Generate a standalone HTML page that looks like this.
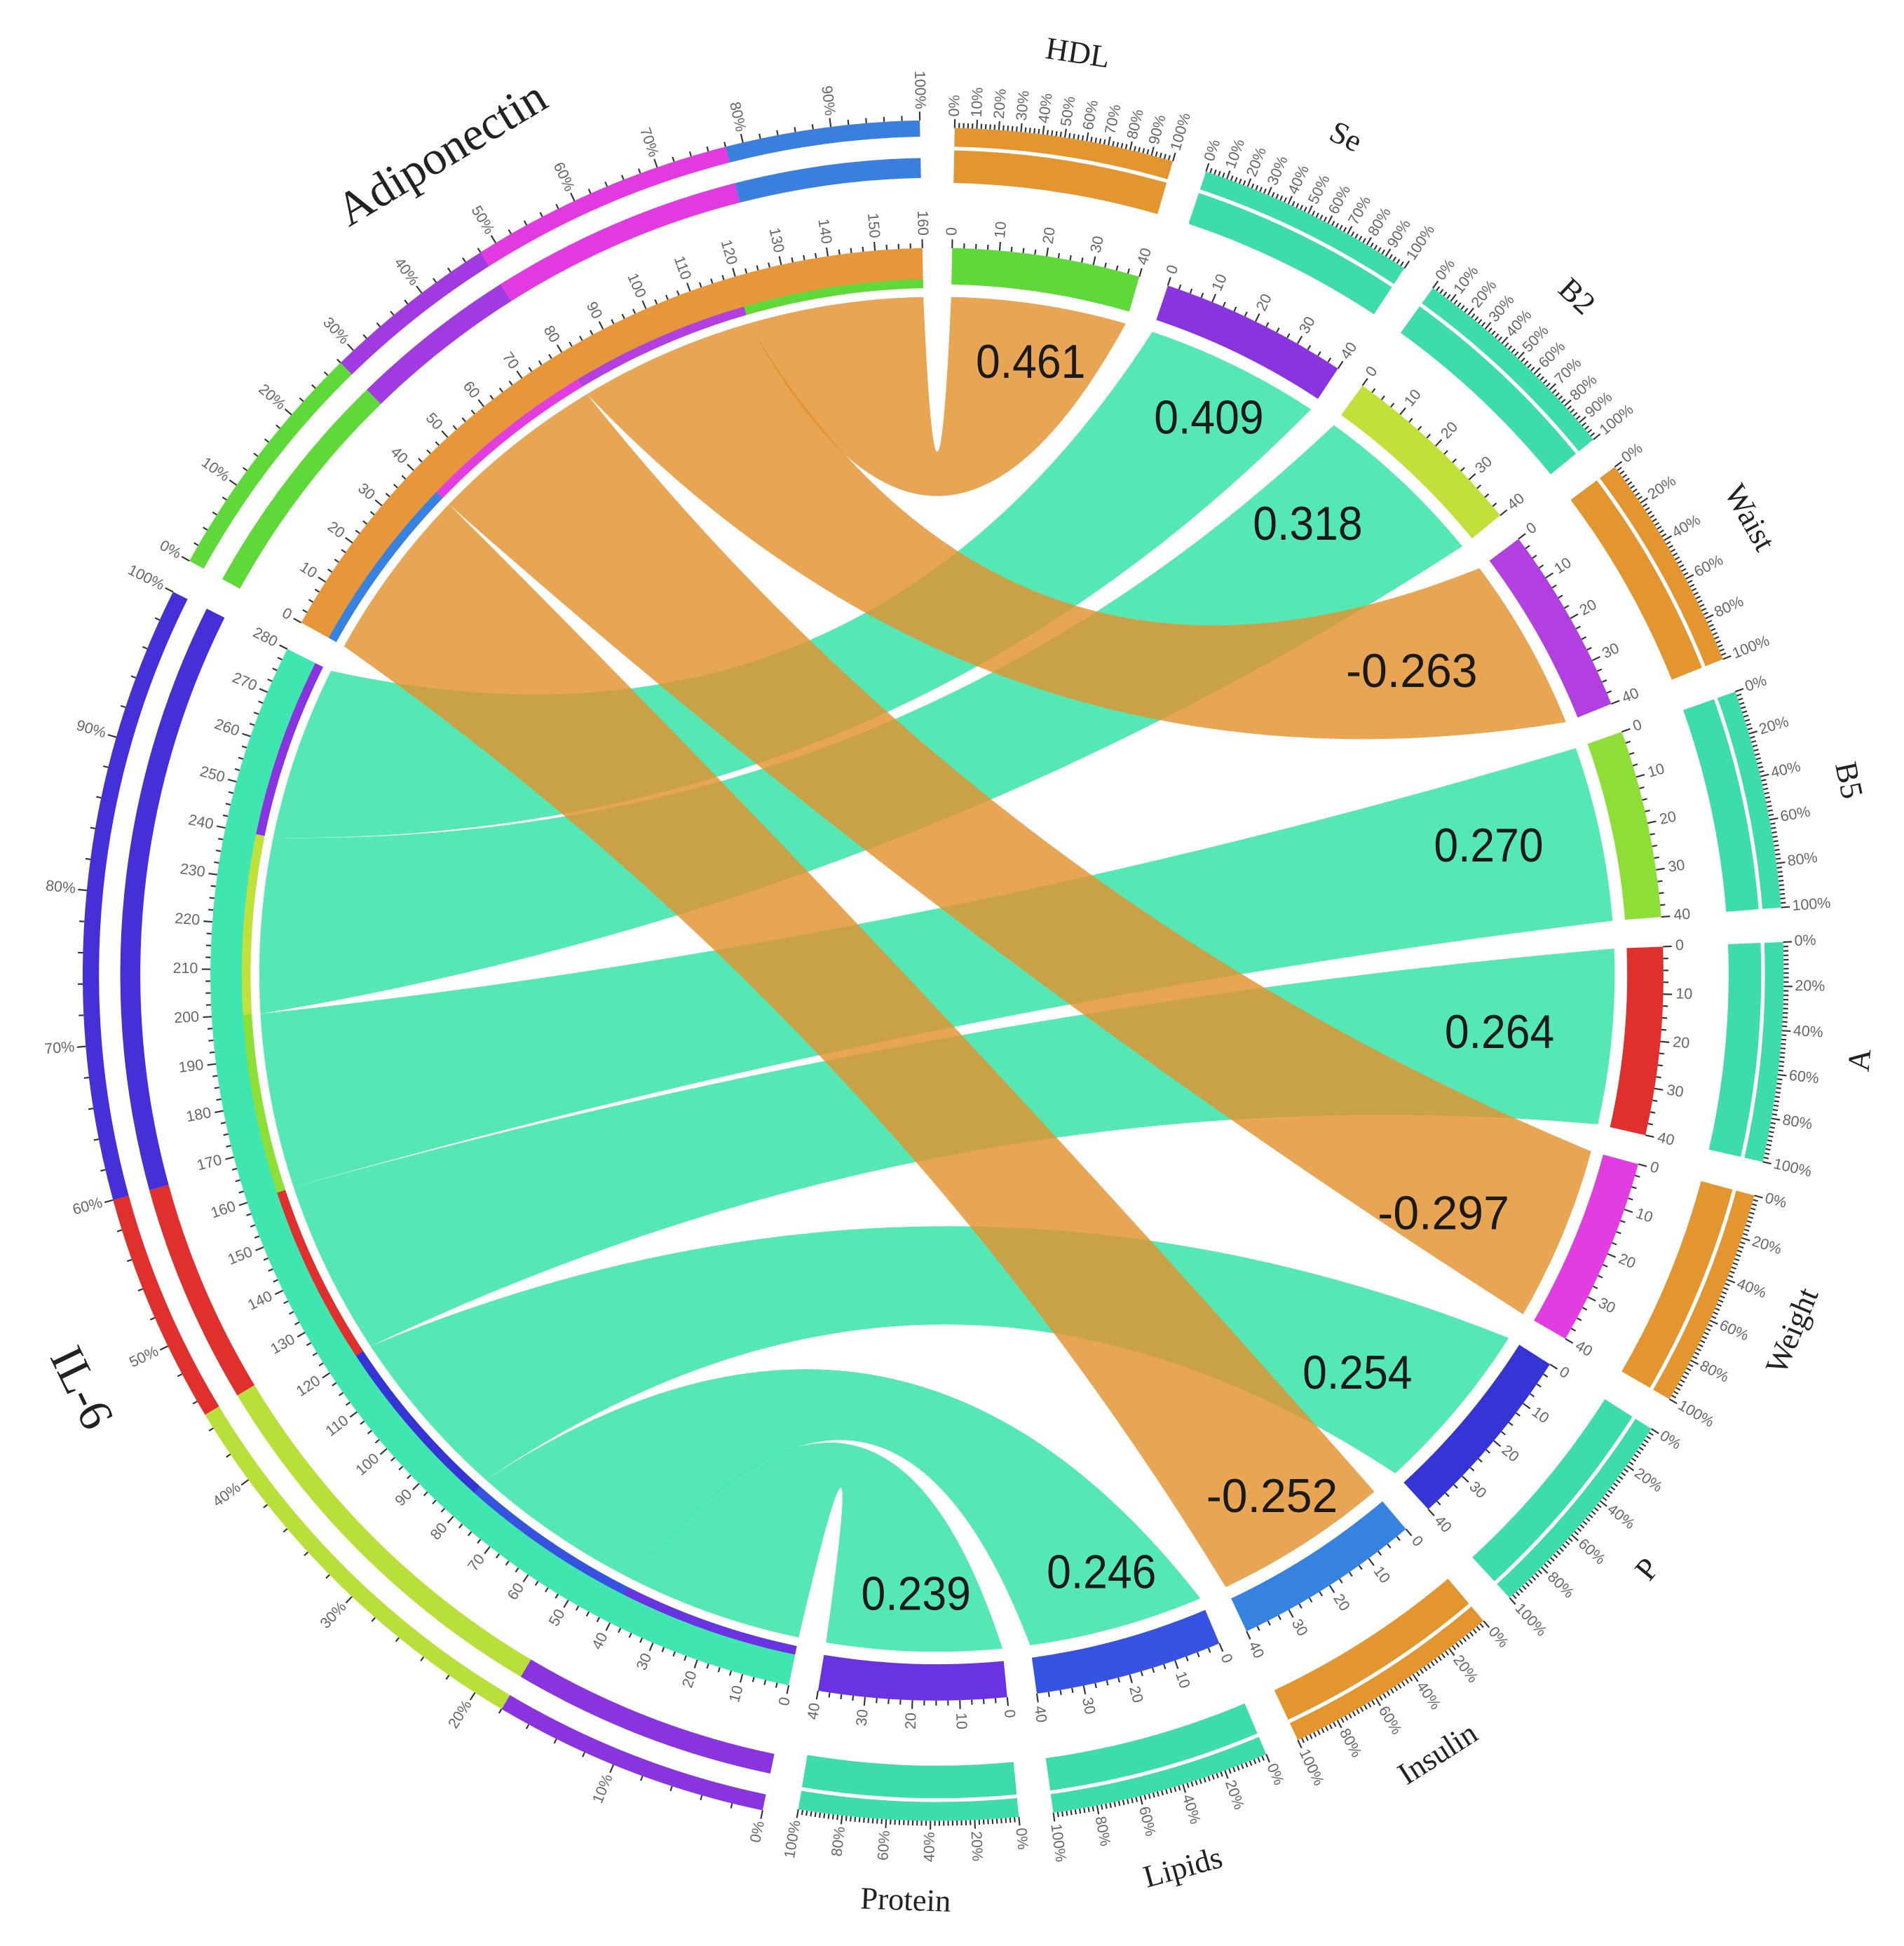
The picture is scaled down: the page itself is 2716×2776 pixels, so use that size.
<!DOCTYPE html>
<html><head><meta charset="utf-8">
<style>
html,body{margin:0;padding:0;background:#fff;}
svg{display:block;}
</style></head>
<body>
<svg id="chart" xmlns="http://www.w3.org/2000/svg" width="2716" height="2776" viewBox="0 0 1520 1554" preserveAspectRatio="none">
<rect x="0" y="0" width="1520" height="1554" fill="#fff"/>
<g id="outer"></g>
<g id="ribbons"></g>
<g id="inner"></g>
<g id="labels"></g>
</svg>
<script>
// ---- data ----
const groups = ['HDL','Se','B2','Waist','B5','A','Weight','P','Insulin','Lipids','Protein','IL-6','Adiponectin'];
const groupSizes = [40,40,40,40,40,40,40,40,40,40,40,280,160];
const groupColors = ['#5fd93a','#8a34e0','#c2e03a','#b23fe0','#8ddf38','#e0302e','#e23de0','#3535d6','#3682e0','#3552e0','#6a33e2','#3fe6b0','#e7973a'];
const outerColors = ['#e3952f','#3ddcaa','#3ddcaa','#e3952f','#3ddcaa','#3ddcaa','#e3952f','#3ddcaa','#e3952f','#3ddcaa','#3ddcaa',null,null];
const chordTargets = ['HDL','Se','B2','Waist','B5','A','Weight','P','Insulin','Lipids','Protein'];
const chordSources = ['Adiponectin','IL-6','IL-6','Adiponectin','IL-6','IL-6','Adiponectin','IL-6','Adiponectin','IL-6','IL-6'];
const chordSourceOffsets = [120,240,200,80,160,120,40,80,0,40,0];
const chordWidths = [40,40,40,40,40,40,40,40,40,40,40];
const chordValues = [0.461,0.409,0.318,-0.263,0.270,0.264,-0.297,0.254,-0.252,0.246,0.239];
const chordLabels = ['0.461','0.409','0.318','-0.263','0.270','0.264','-0.297','0.254','-0.252','0.246','0.239'];
const adipoSegNames = ['HDL','Waist','Weight','Insulin'];
const adipoSegFractions = [0.28,0.20,0.30,0.22];
const il6SegNames = ['Se','B2','A','P'];
const il6SegFractions = [0.18,0.27,0.15,0.40];
const adipoSegColors = ['#5fd93a','#a13ae0','#e03ae0','#3a7fe0'];
const il6SegColors = ['#8a34e0','#b9e03a','#e0302e','#4530d8'];

// ---- geometry ----
const cx = 748, cy = 778;
const startAngle = 1.2, gap = 2.35;
const degPerUnit = (360 - groups.length*gap) / groupSizes.reduce((a,b)=>a+b,0);
const gStart = [];
{ let a = startAngle; groupSizes.forEach((s,i)=>{ gStart.push(a); a += s*degPerUnit + gap; }); }
function ang(gi, u){ return gStart[gi] + u*degPerUnit; }
function pt(r,a){ const t=a*Math.PI/180; return [cx + r*Math.sin(t), cy - r*Math.cos(t)]; }
function f(p){ return p[0].toFixed(2)+' '+p[1].toFixed(2); }
function sector(r0,r1,a0,a1){
  const lg = (a1-a0)>180?1:0;
  return 'M'+f(pt(r1,a0))+' A'+r1+' '+r1+' 0 '+lg+' 1 '+f(pt(r1,a1))+' L'+f(pt(r0,a1))+' A'+r0+' '+r0+' 0 '+lg+' 0 '+f(pt(r0,a0))+'Z';
}
const NS='http://www.w3.org/2000/svg';
function mk(tag, attrs, parent){
  const e=document.createElementNS(NS,tag);
  for(const k in attrs) e.setAttribute(k, attrs[k]);
  parent.appendChild(e); return e;
}
const gOuter=document.getElementById('outer'), gRib=document.getElementById('ribbons'), gInner=document.getElementById('inner'), gLab=document.getElementById('labels');

// ---- inner rings ----
const rChord = 541;
const rIn0 = 548, rIn1 = 580;
groups.forEach((g,i)=>{
  const a0=ang(i,0), a1=ang(i,groupSizes[i]);
  const big = groupSizes[i] > 40;
  const p = mk('path',{d:sector(big?rIn0:551,rIn1,a0,a1),fill:groupColors[i]},gInner);
  
  
  for(let u=0; u<=groupSizes[i]+0.01; u+=2.5){
    const a=ang(i,u); const major = (u%10===0);
    const t = mk('line',{x1:pt(rIn1,a)[0],y1:pt(rIn1,a)[1],x2:pt(rIn1+(major?7:4),a)[0],y2:pt(rIn1+(major?7:4),a)[1],stroke:'#333','stroke-width':1.2},gInner);
    
    
    if(major){
      const q=pt(rIn1+10,a); const flip = a>180;
      const tx = mk('text',{x:q[0],y:q[1],'font-size':12,'font-family':'Liberation Sans, sans-serif',fill:'#666','dominant-baseline':'middle','text-anchor':flip?'end':'start',transform:'rotate('+(flip?a+90:a-90)+' '+q[0]+' '+q[1]+')'},gInner);
      tx.textContent = String(u);
      
      
    }
  }
});

// ---- ribbons ----
function ribbonPath(s0,s1,t0,t1){
  function ctrl(aA,aB){
    let d = Math.abs(aB-aA); if(d>180) d=360-d;
    let mid = (aA+aB)/2; if(Math.abs(aB-aA)>180) mid+=180;
    const k = 0.55*(1-d/180);
    return pt(rChord*k, mid);
  }
  const c1=ctrl(s1,t0), c2=ctrl(t1,s0);
  return 'M'+f(pt(rChord,s0))+' A'+rChord+' '+rChord+' 0 0 1 '+f(pt(rChord,s1))+
    ' Q'+f(c1)+' '+f(pt(rChord,t0))+' A'+rChord+' '+rChord+' 0 0 1 '+f(pt(rChord,t1))+
    ' Q'+f(c2)+' '+f(pt(rChord,s0))+'Z';
}
const order = [];
chordTargets.forEach((t,i)=>{ if(chordSources[i]==='IL-6') order.push(i); });
chordTargets.forEach((t,i)=>{ if(chordSources[i]!=='IL-6') order.push(i); });
order.forEach(i=>{
  const si = groups.indexOf(chordSources[i]), ti = groups.indexOf(chordTargets[i]);
  const s0=ang(si,chordSourceOffsets[i]), s1=ang(si,chordSourceOffsets[i]+chordWidths[i]);
  const t0=ang(ti,0), t1=ang(ti,chordWidths[i]);
  const orange = chordSources[i]==='Adiponectin';
  const p = mk('path',{d:ribbonPath(s0,s1,t0,t1),fill:orange?'#e3922e':'#3de5aa','fill-opacity':orange?0.82:0.88},gRib);
  
  
  const st = mk('path',{d:sector(rIn0,rIn0+7,s0,s1),fill:groupColors[ti]},gInner);
  
  
  const ma=(t0+t1)/2; const q=pt(495,ma);
  const anchor = Math.sin(ma*Math.PI/180)>0.55?'end':'middle';
  const tx = mk('text',{x:q[0],y:q[1]+13,'font-size':38,'font-family':'Liberation Sans Narrow, Liberation Sans, sans-serif','text-anchor':anchor,fill:'#1a1a1a',textLength:chordLabels[i].length*17.5,lengthAdjust:'spacingAndGlyphs'},gLab);
  tx.textContent = chordLabels[i];
  
  
});

// ---- outer rings ----
function pctTicks(i, r, step){
  const a0=ang(i,0), a1=ang(i,groupSizes[i]);
  for(let p=0;p<=100.01;p+=2){
    const a=a0+(a1-a0)*p/100; const major = (p%step===0);
    const l = mk('line',{x1:pt(r,a)[0],y1:pt(r,a)[1],x2:pt(r+(major?7:4),a)[0],y2:pt(r+(major?7:4),a)[1],stroke:'#333','stroke-width':1.2},gOuter);
    
    
    if(major){
      const q=pt(r+9,a); const flip=a>180;
      const tx = mk('text',{x:q[0],y:q[1],'font-size':12,'font-family':'Liberation Sans, sans-serif',fill:'#666','dominant-baseline':'middle','text-anchor':flip?'end':'start',transform:'rotate('+(flip?a+90:a-90)+' '+q[0]+' '+q[1]+')'},gOuter);
      tx.textContent = p+'%';
      
      
    }
  }
}
groups.forEach((g,i)=>{
  const a0=ang(i,0), a1=ang(i,groupSizes[i]);
  if(outerColors[i]){
    const p = mk('path',{d:sector(632,676,a0,a1),fill:outerColors[i]},gOuter);
    
    
    const w = mk('path',{d:sector(658,661,a0,a1),fill:'#fff'},gOuter);
    
    
    pctTicks(i,676, i<3?10:20);
  } else {
    const fr = g==='IL-6'?il6SegFractions:adipoSegFractions;
    const cols = g==='IL-6'?il6SegColors:adipoSegColors;
    let acc=0;
    fr.forEach((fv,k)=>{
      const b0=a0+(a1-a0)*acc, b1=a0+(a1-a0)*(acc+fv);
      const p1 = mk('path',{d:sector(636,652,b0,b1),fill:cols[k]},gOuter);
      
      
      const p2 = mk('path',{d:sector(669,682,b0,b1),fill:cols[k]},gOuter);
      
      
      acc+=fv;
    });
    pctTicks(i,682,10);
  }
  const big = groupSizes[i]>40;
  const ma=(a0+a1)/2; const q=pt(big?762:742,ma);
  let rot = ma; if(ma>90 && ma<270) rot = ma-180;
  const tx = mk('text',{x:q[0],y:q[1],'font-size':big?38:25,'font-family':'Liberation Serif, serif','text-anchor':'middle','dominant-baseline':'middle',fill:'#222',transform:'rotate('+rot+' '+q[0]+' '+q[1]+')'},gLab);
  tx.textContent = g;
  
  
});
</script>
</body></html>
